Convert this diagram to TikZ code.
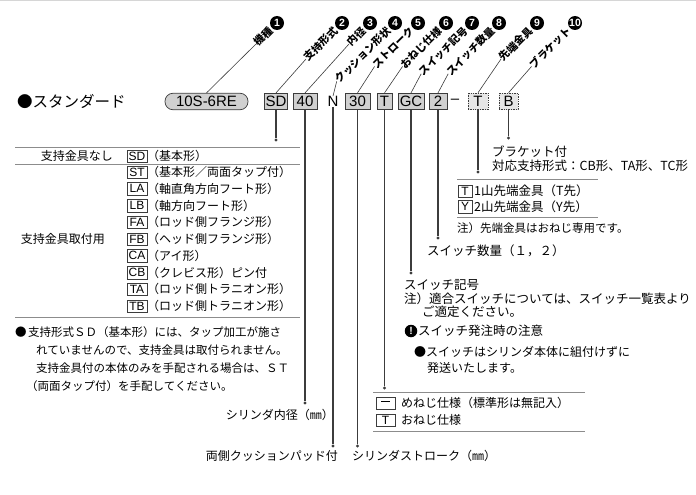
\documentclass[tikz,border=0pt]{standalone}
\usepackage{fontspec}
\setmainfont{Noto Sans CJK JP}
\newfontfamily\codefont{Liberation Sans}
\usetikzlibrary{positioning,calc}
\definecolor{InkGray}{HTML}{3C3C3C}
\definecolor{RuleGray}{HTML}{8C8C8C}
\definecolor{CodeFill}{HTML}{D0D0D0}
\definecolor{OptFill}{HTML}{E6E6E6}
\definecolor{EdgeGray}{HTML}{D6D6D6}
\tikzset{
  codebox/.style={draw=InkGray, fill=CodeFill, line width=0.7pt, inner xsep=1pt, inner ysep=0pt, minimum height=16.5pt, font=\codefont\fontsize{15}{15}\selectfont},
  optbox/.style={codebox, fill=OptFill, densely dotted, line width=1pt},
  pillbox/.style={codebox, rounded corners=8pt, minimum width=83pt},
  keybox/.style={draw=InkGray, fill=white, line width=0.5pt, inner sep=0pt, minimum width=20pt, minimum height=12.5pt, font=\codefont\fontsize{12}{12}\selectfont},
  tag/.style={rotate=45, anchor=east, inner sep=0pt, font=\bfseries\fontsize{10.5}{10.5}\selectfont},
  numdisc/.style={circle, fill=black, text=white, inner sep=0pt, minimum size=14pt, font=\codefont\bfseries\fontsize{10.5}{10.5}\selectfont},
  lead/.style={line width=1.2pt, draw=InkGray},
  leader/.style={line width=0.6pt, draw=InkGray},
  tablerule/.style={line width=0.8pt, draw=RuleGray},
  txt/.style={inner sep=0pt, anchor=west, font=\fontsize{12}{14}\selectfont},
  smalltxt/.style={txt, font=\fontsize{11.5}{14}\selectfont},
  widetxt/.style={txt, font=\fontsize{12.5}{14}\selectfont},
  enddot/.style={circle, fill=InkGray, inner sep=0pt, minimum size=3.4pt}
}
\begin{document}
\begin{tikzpicture}[x=1pt, y=1pt]
\useasboundingbox (0,0) rectangle (696,-495);
\draw[EdgeGray, line width=1.5pt] (0,-0.75) -- (696,-0.75);

% model code row
\node[txt, font=\fontsize{15.5}{16}\selectfont] (std) at (17,-101) {●スタンダード};
\node[pillbox] (kishu) at (206.5,-101.5) {10S-6RE};
\node[codebox, minimum width=22pt] (sd) at (276,-101.5) {SD};
\node[codebox, minimum width=24pt] (bore) at (305,-101.5) {40};
\node[inner sep=0pt, font=\codefont\fontsize{15}{15}\selectfont] (cush) at (333,-101.5) {N};
\node[codebox, minimum width=25pt] (strk) at (357.5,-101.5) {30};
\node[codebox, minimum width=15pt] (thr) at (384.5,-101.5) {T};
\node[codebox, minimum width=26pt] (sw) at (411,-101.5) {GC};
\node[codebox, minimum width=18pt] (swn) at (438,-101.5) {2};
\node[inner sep=0pt, font=\codefont\fontsize{15}{15}\selectfont] (hyph) at (455,-101.5) {–};
\node[optbox, minimum width=20pt] (tip) at (478,-101.5) {T};
\node[optbox, minimum width=19pt] (brk) at (508.5,-101.5) {B};

% numbered callouts
\foreach \b/\cx/\n/\lab in {kishu/277/1/機種, sd/342/2/支持形式, bore/370/3/内径, cush/395/4/クッション形状, strk/418/5/ストローク, thr/446/6/おねじ仕様, sw/472/7/スイッチ記号, swn/499/8/スイッチ数量, tip/537/9/先端金具, brk/575/10/ブラケット}{
  \node[numdisc] (c\n) at (\cx,-23) {\n};
  \node[tag] (t\n) at ($(c\n)+(-6,-6)$) {\lab};
  \draw[leader] (\b.north) -- (t\n.west);
}

% leads down to the explanations
\foreach \b/\y in {sd/140, bore/403, cush/446, strk/446, thr/388, sw/273, swn/238, tip/172, brk/138}{
  \node[enddot] (e\b) at (\b.south |- 0,-\y) {};
  \draw[lead] (\b.south) -- (e\b);
}

% mounting table
\draw[tablerule] (15,-147) -- (300,-147);
\node[txt, anchor=east] (nolab) at (113,-156) {支持金具なし};
\node[keybox] (kSD) at (137,-156) {SD};
\node[txt] (dSD) at (147,-156) {（基本形）};
\draw[tablerule] (15,-164) -- (300,-164);
\foreach \k/\d [count=\i from 0] in {ST/（基本形／両面タップ付）, LA/（軸直角方向フート形）, LB/（軸方向フート形）, FA/（ロッド側フランジ形）, FB/（ヘッド側フランジ形）, CA/（アイ形）, CB/（クレビス形）ピン付, TA/（ロッド側トラニオン形）, TB/（ロッド側トラニオン形）}{
  \node[keybox] (k\k) at (137,{-172-16.75*\i}) {\k};
  \node[txt] (d\k) at (147,{-172-16.75*\i}) {\d};
}
\node[txt, anchor=east] (withlab) at (105,-239) {支持金具取付用};
\draw[tablerule] (15,-317) -- (300,-317);

% note on SD
\node[smalltxt] (sdbul) at (15,-332) {●};
\node[smalltxt] (sdn1) at (28,-332) {支持形式ＳＤ（基本形）には、タップ加工が施さ};
\node[smalltxt] (sdn2) at (36,-350) {れていませんので、支持金具は取付られません。};
\node[smalltxt] (sdn3) at (36,-368) {支持金具付の本体のみを手配される場合は、ＳＴ};
\node[smalltxt] (sdn4) at (26,-386) {（両面タップ付）を手配してください。};

% bottom labels
\node[txt, anchor=east] (borelab) at (334,-415) {シリンダ内径（㎜）};
\node[txt, anchor=east] (cushlab) at (338,-456) {両側クッションパッド付};
\node[txt] (strklab) at (352,-456) {シリンダストローク（㎜）};

% thread table
\draw[tablerule] (373,-392) -- (585,-392);
\node[keybox, minimum width=19pt] (kF) at (385.5,-403) {\rule[3.2pt]{9pt}{0.9pt}};
\node[txt] (dF) at (401,-403) {めねじ仕様（標準形は無記入）};
\node[keybox, minimum width=19pt] (kM) at (385.5,-420) {T};
\node[txt] (dM) at (401,-420) {おねじ仕様};
\draw[tablerule] (373,-431) -- (585,-431);

% bracket and tip
\node[widetxt] (brk1) at (492,-152) {ブラケット付};
\node[widetxt] (brk2) at (492,-166) {対応支持形式：CB形、TA形、TC形};
\draw[tablerule] (457,-179) -- (598,-179);
\node[keybox, minimum width=14pt] (kT) at (465,-191) {T};
\node[widetxt] (dT) at (474,-191) {1山先端金具（T先）};
\node[keybox, minimum width=14pt] (kY) at (465,-206.5) {Y};
\node[widetxt] (dY) at (474,-206.5) {2山先端金具（Y先）};
\draw[tablerule] (457,-217) -- (598,-217);
\node[smalltxt] (tipnote) at (457,-228) {注）先端金具はおねじ専用です。};

% switches
\node[widetxt] (swnlab) at (427,-251) {スイッチ数量（１，２）};
\node[widetxt] (swlab) at (404,-285) {スイッチ記号};
\node[widetxt] (swnote) at (404,-298.5) {注）適合スイッチについては、スイッチ一覧表より};
\node[widetxt] (swnote2) at (422,-312) {ご適定ください。};
\node[numdisc, minimum size=12.5pt] (warn) at (411,-331) {!};
\node[widetxt] (warnlab) at (418,-331) {スイッチ発注時の注意};
\node[txt] (ship1) at (414,-352) {●スイッチはシリンダ本体に組付けずに};
\node[txt] (ship2) at (427,-368) {発送いたします。};
\end{tikzpicture}
\end{document}
